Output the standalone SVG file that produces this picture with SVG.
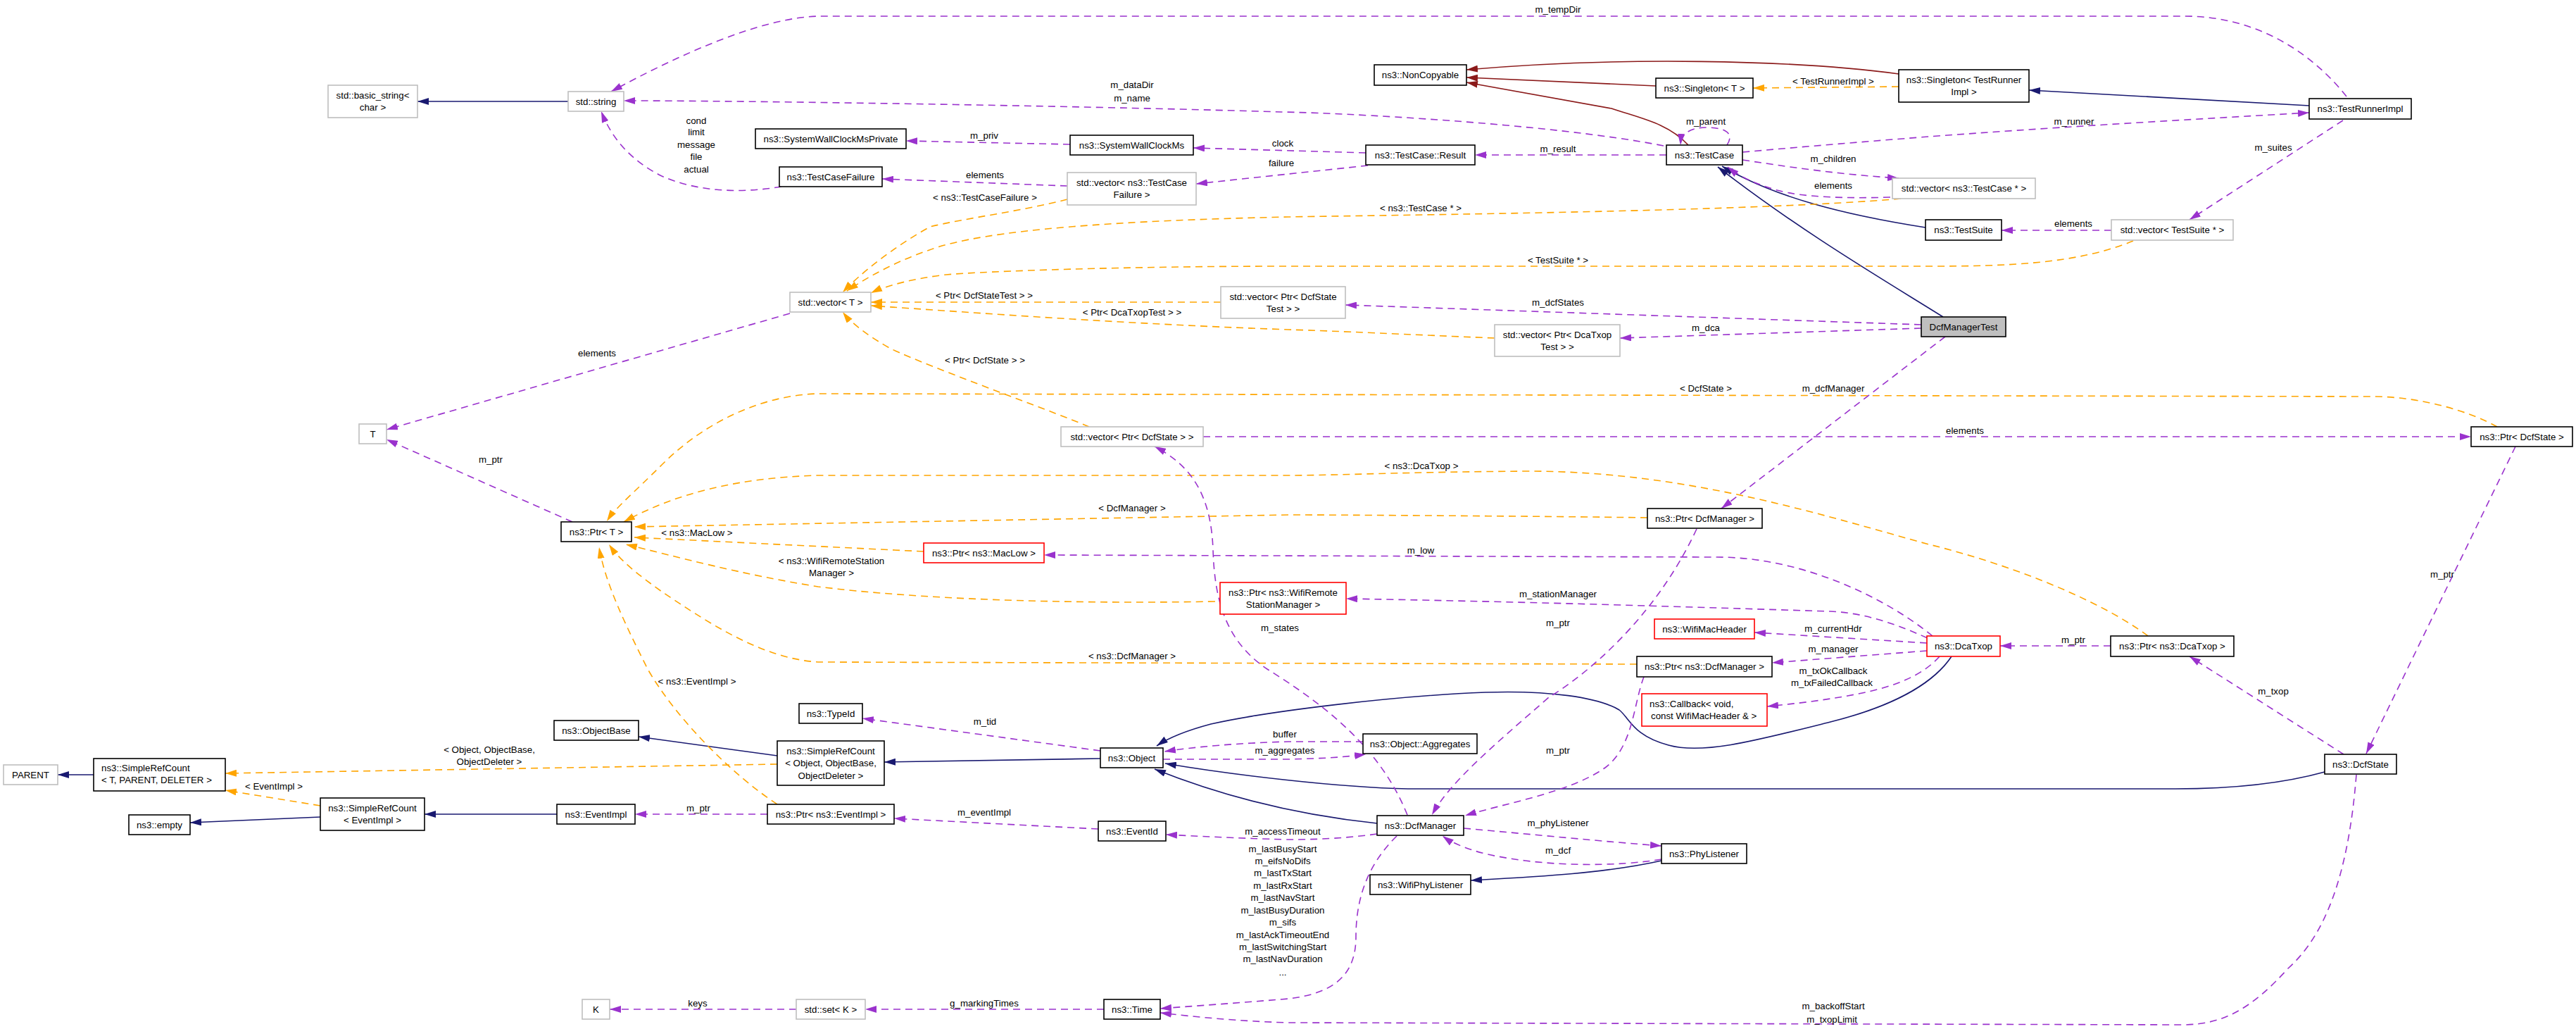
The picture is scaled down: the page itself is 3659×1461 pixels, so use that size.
<svg xmlns="http://www.w3.org/2000/svg" width="3659" height="1461" viewBox="0 0 3659 1461">
<style>
.e{fill:none;stroke-width:1.6}
.p{stroke:#9a32cd;stroke-dasharray:10,7;marker-end:url(#aP)}
.o{stroke:#ffa500;stroke-dasharray:10,7;marker-end:url(#aO)}
.b{stroke:#191970;marker-end:url(#aB)}
.d{stroke:#8b1a1a;marker-end:url(#aD)}
rect{fill:#fff;stroke-width:1.6}
rect.k{stroke:#000}
rect.g{stroke:#bfbfbf}
rect.r{stroke:#ff0000}
rect.f{stroke:#000;fill:#bfbfbf}
text{font-family:"Liberation Sans",Arial,Helvetica,sans-serif;font-size:13.3px;fill:#000}
.c{text-anchor:middle}
</style>
<defs>
<marker id="aP" viewBox="0 0 16 10" refX="16" refY="5" markerWidth="16" markerHeight="10" orient="auto" markerUnits="userSpaceOnUse"><path d="M0,0L16,5L0,10z" fill="#9a32cd"/></marker>
<marker id="aO" viewBox="0 0 16 10" refX="16" refY="5" markerWidth="16" markerHeight="10" orient="auto" markerUnits="userSpaceOnUse"><path d="M0,0L16,5L0,10z" fill="#ffa500"/></marker>
<marker id="aB" viewBox="0 0 16 10" refX="16" refY="5" markerWidth="16" markerHeight="10" orient="auto" markerUnits="userSpaceOnUse"><path d="M0,0L16,5L0,10z" fill="#191970"/></marker>
<marker id="aD" viewBox="0 0 16 10" refX="16" refY="5" markerWidth="16" markerHeight="10" orient="auto" markerUnits="userSpaceOnUse"><path d="M0,0L16,5L0,10z" fill="#8b1a1a"/></marker>
</defs>
<rect x="0" y="0" width="3659" height="1461" style="fill:#fff;stroke:none"/>
<g id="edges">
<!-- inheritance -->
<path class="e b" d="M807,144L593,144"/>
<path class="e d" d="M2697,105C2550,85 2300,80 2083,99"/>
<path class="e d" d="M2352,122L2083,110"/>
<path class="e d" d="M2398,206C2370,175 2330,168 2289,154L2083,117"/>
<path class="e b" d="M3280,150L2882,128"/>
<path class="e b" d="M2735,323C2620,305 2520,280 2446,236"/>
<path class="e b" d="M2760,450C2680,400 2560,330 2440,237"/>
<path class="e b" d="M455,1160L270,1168"/>
<path class="e b" d="M133,1100L82,1100"/>
<path class="e b" d="M791,1156L603,1156"/>
<path class="e b" d="M1104,1073L907,1046"/>
<path class="e b" d="M1563,1077L1256,1082"/>
<path class="e b" d="M1956,1169C1870,1160 1760,1140 1640,1092"/>
<path class="e b" d="M2772,932C2750,965 2700,1000 2600,1025C2500,1050 2420,1072 2370,1058C2320,1045 2315,1020 2300,1008C2270,990 2200,980 2110,983C1980,988 1800,1010 1720,1028C1690,1036 1662,1046 1643,1059"/>
<path class="e b" d="M3302,1096C3230,1116 3150,1120 3090,1120L2000,1120C1900,1118 1750,1100 1655,1084"/>
<path class="e b" d="M2360,1222C2280,1240 2180,1245 2089,1250"/>
<!-- template instances -->
<path class="e o" d="M1516,283C1450,300 1370,310 1321,322C1270,350 1220,390 1197,415"/>
<path class="e o" d="M2700,282C2500,300 2000,305 1830,308C1600,313 1400,325 1320,355C1270,372 1230,395 1203,413"/>
<path class="e o" d="M3030,342C2950,375 2850,378 2740,378L1830,378C1600,378 1400,385 1344,390C1300,395 1260,405 1237,416"/>
<path class="e o" d="M1734,429L1237,429"/>
<path class="e o" d="M2123,480C2000,475 1900,470 1830,468C1600,460 1400,445 1237,434"/>
<path class="e o" d="M1547,606C1480,578 1330,525 1265,495C1235,478 1210,460 1197,443"/>
<path class="e o" d="M3547,606C3510,585 3440,563 3370,563L1160,559C1080,562 1000,600 940,660C900,700 875,720 862,740"/>
<path class="e o" d="M3051,903C2980,850 2850,800 2740,773C2600,735 2400,669 2172,669C2000,670 1900,675 1830,675L1162,675C1050,678 960,700 886,741"/>
<path class="e o" d="M2340,735C2200,733 1900,731 1830,731L901,748"/>
<path class="e o" d="M1312,783L901,763"/>
<path class="e o" d="M1726,854C1500,858 1300,850 1162,833C1050,815 960,790 889,773"/>
<path class="e o" d="M2325,943L1162,940C1080,935 1000,880 940,840C905,815 880,795 865,773"/>
<path class="e o" d="M1104,1142C1040,1100 960,1020 920,950C890,890 860,830 851,777"/>
<path class="e o" d="M1104,1085L320,1098"/>
<path class="e o" d="M455,1144L320,1122"/>
<path class="e o" d="M2697,123L2490,125"/>
<!-- usage -->
<path class="e p" d="M3333,137C3280,70 3200,23 3104,23L1162,23C1080,25 960,80 868,130"/>
<path class="e p" d="M2363,207C2200,175 1900,160 1820,159C1600,152 1100,143 886,143"/>
<path class="e p" d="M1110,265C1050,275 990,272 940,250C900,230 870,200 854,158"/>
<path class="e p" d="M1520,205L1287,200"/>
<path class="e p" d="M1940,217L1695,210"/>
<path class="e p" d="M1943,235L1699,261"/>
<path class="e p" d="M1516,264L1253,254"/>
<path class="e p" d="M2367,220L2095,220"/>
<path class="e p" d="M2453,206C2465,188 2448,181 2424,181C2400,181 2388,190 2387,206"/>
<path class="e p" d="M2475,227C2560,240 2620,248 2697,253"/>
<path class="e p" d="M2685,280C2620,282 2560,280 2524,270C2490,260 2470,250 2454,237"/>
<path class="e p" d="M2475,216C2600,205 2700,197 2740,194C2900,182 3100,170 3280,160"/>
<path class="e p" d="M3328,171L3110,312"/>
<path class="e p" d="M2999,327L2843,327"/>
<path class="e p" d="M2729,461L1911,433"/>
<path class="e p" d="M2729,466L2301,480"/>
<path class="e p" d="M1122,445L549,610"/>
<path class="e p" d="M813,741L549,624"/>
<path class="e p" d="M1709,620L3510,620"/>
<path class="e p" d="M1999,1157C1960,1060 1880,1000 1800,950C1740,910 1725,850 1723,780C1720,700 1690,660 1640,634"/>
<path class="e p" d="M2763,478L2445,722"/>
<path class="e p" d="M2410,751C2350,880 2250,960 2200,990C2120,1060 2060,1110 2034,1157"/>
<path class="e p" d="M2335,961C2320,1000 2320,1060 2280,1090C2230,1125 2140,1140 2081,1158"/>
<path class="e p" d="M2745,903C2680,850 2560,790 2436,791L1483,788"/>
<path class="e p" d="M2738,906C2680,880 2640,870 2600,868C2400,862 2200,855 1912,850"/>
<path class="e p" d="M2737,913L2492,898"/>
<path class="e p" d="M2737,924L2517,941"/>
<path class="e p" d="M2755,932C2730,960 2690,975 2640,985C2590,995 2540,1000 2510,1003"/>
<path class="e p" d="M2998,917L2841,917"/>
<path class="e p" d="M3329,1071L3110,932"/>
<path class="e p" d="M3573,634L3361,1070"/>
<path class="e p" d="M1563,1066L1225,1020"/>
<path class="e p" d="M1652,1078L1830,1078C1880,1077 1910,1075 1940,1071"/>
<path class="e p" d="M1936,1053L1830,1053C1760,1055 1700,1060 1654,1067"/>
<path class="e p" d="M1560,1177L1270,1162"/>
<path class="e p" d="M1090,1156L902,1156"/>
<path class="e p" d="M1956,1184C1900,1192 1850,1192 1830,1192C1750,1190 1700,1187 1656,1185"/>
<path class="e p" d="M2079,1176C2180,1185 2280,1195 2360,1201"/>
<path class="e p" d="M2360,1220C2300,1230 2200,1232 2113,1213C2080,1205 2060,1195 2049,1187"/>
<path class="e p" d="M1984,1187C1940,1230 1926,1280 1926,1330C1926,1380 1900,1410 1830,1418C1760,1424 1700,1428 1648,1432"/>
<path class="e p" d="M3347,1100C3335,1250 3300,1330 3250,1375C3200,1430 3160,1455 3100,1455L1830,1452C1760,1450 1700,1444 1648,1438"/>
<path class="e p" d="M1568,1433L1229,1433"/>
<path class="e p" d="M1131,1433L866,1433"/>
<!-- labels -->
<g class="c">
<text x="2213" y="18">m_tempDir</text>
<text x="1608" y="125">m_dataDir</text>
<text x="1608" y="144">m_name</text>
<text x="989" y="176">cond</text>
<text x="989" y="192">limit</text>
<text x="989" y="210">message</text>
<text x="989" y="227">file</text>
<text x="989" y="245">actual</text>
<text x="1398" y="197">m_priv</text>
<text x="1822" y="208">clock</text>
<text x="1820" y="236">failure</text>
<text x="1399" y="253">elements</text>
<text x="1399" y="285">&lt; ns3::TestCaseFailure &gt;</text>
<text x="2604" y="120">&lt; TestRunnerImpl &gt;</text>
<text x="2423" y="177">m_parent</text>
<text x="2213" y="216">m_result</text>
<text x="2604" y="230">m_children</text>
<text x="2604" y="268">elements</text>
<text x="2018" y="300">&lt; ns3::TestCase * &gt;</text>
<text x="2213" y="374">&lt; TestSuite * &gt;</text>
<text x="2946" y="177">m_runner</text>
<text x="3229" y="214">m_suites</text>
<text x="2945" y="322">elements</text>
<text x="2213" y="434">m_dcfStates</text>
<text x="2423" y="470">m_dca</text>
<text x="1398" y="424">&lt; Ptr&lt; DcfStateTest &gt; &gt;</text>
<text x="1608" y="448">&lt; Ptr&lt; DcaTxopTest &gt; &gt;</text>
<text x="848" y="506">elements</text>
<text x="697" y="657">m_ptr</text>
<text x="1399" y="516">&lt; Ptr&lt; DcfState &gt; &gt;</text>
<text x="2423" y="556">&lt; DcfState &gt;</text>
<text x="2604" y="556">m_dcfManager</text>
<text x="2791" y="616">elements</text>
<text x="2019" y="666">&lt; ns3::DcaTxop &gt;</text>
<text x="1608" y="726">&lt; DcfManager &gt;</text>
<text x="990" y="761">&lt; ns3::MacLow &gt;</text>
<text x="2018" y="786">m_low</text>
<text x="1181" y="801">&lt; ns3::WifiRemoteStation</text>
<text x="1181" y="818">Manager &gt;</text>
<text x="3469" y="820">m_ptr</text>
<text x="2213" y="848">m_stationManager</text>
<text x="2213" y="889">m_ptr</text>
<text x="1818" y="896">m_states</text>
<text x="2604" y="897">m_currentHdr</text>
<text x="2945" y="913">m_ptr</text>
<text x="2604" y="926">m_manager</text>
<text x="1608" y="936">&lt; ns3::DcfManager &gt;</text>
<text x="2604" y="957">m_txOkCallback</text>
<text x="990" y="972">&lt; ns3::EventImpl &gt;</text>
<text x="2602" y="974">m_txFailedCallback</text>
<text x="3229" y="986">m_txop</text>
<text x="1399" y="1029">m_tid</text>
<text x="1825" y="1047">buffer</text>
<text x="695" y="1069">&lt; Object, ObjectBase,</text>
<text x="695" y="1086">ObjectDeleter &gt;</text>
<text x="1825" y="1070">m_aggregates</text>
<text x="2213" y="1070">m_ptr</text>
<text x="389" y="1121">&lt; EventImpl &gt;</text>
<text x="992" y="1152">m_ptr</text>
<text x="1398" y="1158">m_eventImpl</text>
<text x="2213" y="1173">m_phyListener</text>
<text x="1822" y="1185">m_accessTimeout</text>
<text x="1822" y="1210">m_lastBusyStart</text>
<text x="1822" y="1227">m_eifsNoDifs</text>
<text x="1822" y="1244">m_lastTxStart</text>
<text x="1822" y="1262">m_lastRxStart</text>
<text x="1822" y="1279">m_lastNavStart</text>
<text x="1822" y="1297">m_lastBusyDuration</text>
<text x="1822" y="1314">m_sifs</text>
<text x="1822" y="1332">m_lastAckTimeoutEnd</text>
<text x="1822" y="1349">m_lastSwitchingStart</text>
<text x="1822" y="1366">m_lastNavDuration</text>
<text x="1822" y="1385">...</text>
<text x="2213" y="1212">m_dcf</text>
<text x="991" y="1429">keys</text>
<text x="1398" y="1429">g_markingTimes</text>
<text x="2604" y="1433">m_backoffStart</text>
<text x="2602" y="1452">m_txopLimit</text>
</g>
</g>
<g id="n_basic_string"><rect class="g" x="466" y="121" width="127" height="46"/><text class="c" x="529.5" y="140">std::basic_string&lt;</text><text class="c" x="529.5" y="157">char &gt;</text></g>
<g id="n_std_string"><rect class="g" x="807" y="130" width="79" height="28"/><text class="c" x="846.5" y="149">std::string</text></g>
<g id="n_SystemWallClockMsPrivate"><rect class="k" x="1073" y="183" width="214" height="28"/><text class="c" x="1180" y="202">ns3::SystemWallClockMsPrivate</text></g>
<g id="n_SystemWallClockMs"><rect class="k" x="1520" y="192" width="175" height="28"/><text class="c" x="1607.5" y="211">ns3::SystemWallClockMs</text></g>
<g id="n_TestCaseFailure"><rect class="k" x="1107" y="237" width="146" height="28"/><text class="c" x="1180" y="256">ns3::TestCaseFailure</text></g>
<g id="n_vec_TestCaseFailure"><rect class="g" x="1516" y="245" width="183" height="46"/><text class="c" x="1607.5" y="264">std::vector&lt; ns3::TestCase</text><text class="c" x="1607.5" y="281">Failure &gt;</text></g>
<g id="n_vec_T"><rect class="g" x="1122" y="415" width="115" height="28"/><text class="c" x="1179.5" y="434">std::vector&lt; T &gt;</text></g>
<g id="n_vec_PtrDcfStateTest"><rect class="g" x="1734" y="407" width="177" height="45"/><text class="c" x="1822.5" y="426">std::vector&lt; Ptr&lt; DcfState</text><text class="c" x="1822.5" y="443">Test &gt; &gt;</text></g>
<g id="n_NonCopyable"><rect class="k" x="1952" y="92" width="131" height="29"/><text class="c" x="2017.5" y="111">ns3::NonCopyable</text></g>
<g id="n_Singleton_T"><rect class="k" x="2352" y="111" width="138" height="28"/><text class="c" x="2421" y="130">ns3::Singleton&lt; T &gt;</text></g>
<g id="n_TestCaseResult"><rect class="k" x="1940" y="206" width="155" height="28"/><text class="c" x="2017.5" y="225">ns3::TestCase::Result</text></g>
<g id="n_TestCase"><rect class="k" x="2367" y="206" width="108" height="28"/><text class="c" x="2421" y="225">ns3::TestCase</text></g>
<g id="n_vec_TestCasePtr"><rect class="g" x="2688" y="253" width="203" height="29"/><text class="c" x="2789.5" y="272">std::vector&lt; ns3::TestCase * &gt;</text></g>
<g id="n_TestSuite"><rect class="k" x="2735" y="312" width="108" height="29"/><text class="c" x="2789" y="331">ns3::TestSuite</text></g>
<g id="n_vec_TestSuitePtr"><rect class="g" x="2999" y="312" width="173" height="29"/><text class="c" x="3085.5" y="331">std::vector&lt; TestSuite * &gt;</text></g>
<g id="n_TestRunnerImpl"><rect class="k" x="3280" y="140" width="145" height="29"/><text class="c" x="3352.5" y="159">ns3::TestRunnerImpl</text></g>
<g id="n_Singleton_TRI"><rect class="k" x="2697" y="99" width="185" height="46"/><text class="c" x="2789.5" y="118">ns3::Singleton&lt; TestRunner</text><text class="c" x="2789.5" y="135">Impl &gt;</text></g>
<g id="n_DcfManagerTest"><rect class="f" x="2729" y="450" width="120" height="28"/><text class="c" x="2789" y="469">DcfManagerTest</text></g>
<g id="n_vec_PtrDcaTxopTest"><rect class="g" x="2123" y="461" width="178" height="45"/><text class="c" x="2212" y="480">std::vector&lt; Ptr&lt; DcaTxop</text><text class="c" x="2212" y="497">Test &gt; &gt;</text></g>
<g id="n_T"><rect class="g" x="510" y="602" width="39" height="28"/><text class="c" x="529.5" y="621">T</text></g>
<g id="n_Ptr_T"><rect class="k" x="797" y="741" width="100" height="28"/><text class="c" x="847" y="760">ns3::Ptr&lt; T &gt;</text></g>
<g id="n_vec_PtrDcfState"><rect class="g" x="1507" y="606" width="202" height="28"/><text class="c" x="1608" y="625">std::vector&lt; Ptr&lt; DcfState &gt; &gt;</text></g>
<g id="n_Ptr_MacLow"><rect class="r" x="1312" y="771" width="171" height="28"/><text class="c" x="1397.5" y="790">ns3::Ptr&lt; ns3::MacLow &gt;</text></g>
<g id="n_Ptr_WifiRSM"><rect class="r" x="1733" y="827" width="179" height="45"/><text class="c" x="1822.5" y="846">ns3::Ptr&lt; ns3::WifiRemote</text><text class="c" x="1822.5" y="863">StationManager &gt;</text></g>
<g id="n_Ptr_DcfManager"><rect class="k" x="2340" y="722" width="163" height="28"/><text class="c" x="2421.5" y="741">ns3::Ptr&lt; DcfManager &gt;</text></g>
<g id="n_WifiMacHeader"><rect class="r" x="2350" y="879" width="142" height="28"/><text class="c" x="2421" y="898">ns3::WifiMacHeader</text></g>
<g id="n_Ptr_ns3DcfManager"><rect class="k" x="2325" y="932" width="192" height="29"/><text class="c" x="2421" y="951">ns3::Ptr&lt; ns3::DcfManager &gt;</text></g>
<g id="n_DcaTxop"><rect class="r" x="2737" y="903" width="104" height="29"/><text class="c" x="2789" y="922">ns3::DcaTxop</text></g>
<g id="n_Ptr_DcfState"><rect class="k" x="3510" y="606" width="144" height="28"/><text class="c" x="3582" y="625">ns3::Ptr&lt; DcfState &gt;</text></g>
<g id="n_Ptr_DcaTxop"><rect class="k" x="2998" y="903" width="175" height="29"/><text class="c" x="3085.5" y="922">ns3::Ptr&lt; ns3::DcaTxop &gt;</text></g>
<g id="n_PARENT"><rect class="g" x="5" y="1086" width="77" height="28"/><text class="c" x="43.5" y="1105">PARENT</text></g>
<g id="n_SRC_T"><rect class="k" x="133" y="1077" width="187" height="46"/><text x="144" y="1095">ns3::SimpleRefCount</text><text x="144" y="1112">&lt; T, PARENT, DELETER &gt;</text></g>
<g id="n_empty"><rect class="k" x="183" y="1157" width="87" height="28"/><text class="c" x="226.5" y="1176">ns3::empty</text></g>
<g id="n_SRC_EventImpl"><rect class="k" x="455" y="1133" width="148" height="46"/><text class="c" x="529" y="1152">ns3::SimpleRefCount</text><text class="c" x="529" y="1169">&lt; EventImpl &gt;</text></g>
<g id="n_EventImpl"><rect class="k" x="791" y="1142" width="111" height="28"/><text class="c" x="846.5" y="1161">ns3::EventImpl</text></g>
<g id="n_ObjectBase"><rect class="k" x="787" y="1023" width="120" height="28"/><text class="c" x="847" y="1042">ns3::ObjectBase</text></g>
<g id="n_K"><rect class="g" x="827" y="1419" width="39" height="28"/><text class="c" x="846.5" y="1438">K</text></g>
<g id="n_TypeId"><rect class="k" x="1135" y="999" width="90" height="28"/><text class="c" x="1180" y="1018">ns3::TypeId</text></g>
<g id="n_SRC_Object"><rect class="k" x="1104" y="1052" width="152" height="63"/><text class="c" x="1180" y="1071">ns3::SimpleRefCount</text><text class="c" x="1180" y="1088">&lt; Object, ObjectBase,</text><text class="c" x="1180" y="1106">ObjectDeleter &gt;</text></g>
<g id="n_Object"><rect class="k" x="1563" y="1062" width="89" height="28"/><text class="c" x="1607.5" y="1081">ns3::Object</text></g>
<g id="n_Ptr_EventImpl"><rect class="k" x="1090" y="1142" width="180" height="28"/><text class="c" x="1180" y="1161">ns3::Ptr&lt; ns3::EventImpl &gt;</text></g>
<g id="n_EventId"><rect class="k" x="1560" y="1166" width="96" height="28"/><text class="c" x="1608" y="1185">ns3::EventId</text></g>
<g id="n_set_K"><rect class="g" x="1131" y="1419" width="98" height="28"/><text class="c" x="1180" y="1438">std::set&lt; K &gt;</text></g>
<g id="n_Time"><rect class="k" x="1568" y="1419" width="80" height="28"/><text class="c" x="1608" y="1438">ns3::Time</text></g>
<g id="n_Aggregates"><rect class="k" x="1936" y="1042" width="162" height="28"/><text class="c" x="2017" y="1061">ns3::Object::Aggregates</text></g>
<g id="n_Callback"><rect class="r" x="2332" y="985" width="178" height="46"/><text x="2343" y="1004">ns3::Callback&lt; void,</text><text x="2345" y="1021">const WifiMacHeader &amp; &gt;</text></g>
<g id="n_DcfManager"><rect class="k" x="1956" y="1158" width="123" height="28"/><text class="c" x="2017.5" y="1177">ns3::DcfManager</text></g>
<g id="n_PhyListener"><rect class="k" x="2360" y="1198" width="121" height="28"/><text class="c" x="2420.5" y="1217">ns3::PhyListener</text></g>
<g id="n_WifiPhyListener"><rect class="k" x="1946" y="1242" width="143" height="28"/><text class="c" x="2017.5" y="1261">ns3::WifiPhyListener</text></g>
<g id="n_DcfState"><rect class="k" x="3302" y="1071" width="102" height="28"/><text class="c" x="3353" y="1090">ns3::DcfState</text></g>
</svg>
